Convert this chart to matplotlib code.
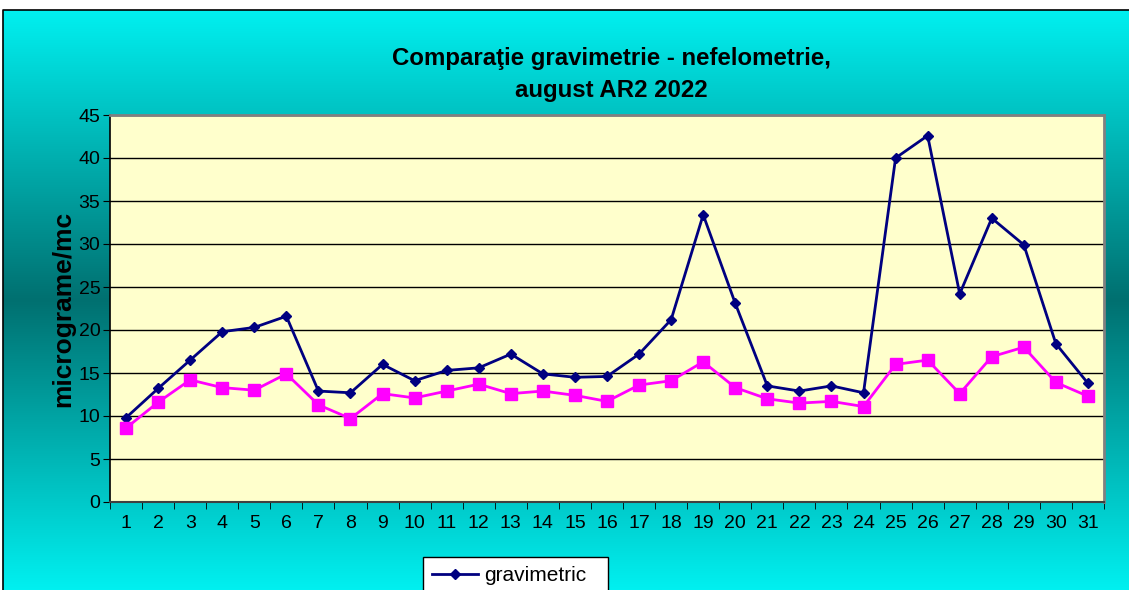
import numpy as np
import matplotlib
matplotlib.use('Agg')
import matplotlib.pyplot as plt
from matplotlib.colors import LinearSegmentedColormap

# date (august 2022, AR2)
zile = [str(i) for i in range(1, 32)]
gravimetric = [9.8, 13.2, 16.5, 19.8, 20.3, 21.6, 12.9, 12.7, 16.0, 14.1,
               15.3, 15.6, 17.2, 14.9, 14.5, 14.6, 17.2, 21.2, 33.4, 23.1,
               13.5, 12.9, 13.5, 12.7, 40.0, 42.6, 24.2, 33.0, 29.9, 18.4, 13.8]
nefelometric = [8.6, 11.6, 14.2, 13.3, 13.0, 14.9, 11.3, 9.7, 12.6, 12.1,
                12.9, 13.7, 12.6, 12.9, 12.4, 11.7, 13.6, 14.1, 16.3, 13.3,
                12.0, 11.5, 11.7, 11.1, 16.0, 16.5, 12.6, 16.9, 18.0, 13.9, 12.3]
y_ticks = [0, 5, 10, 15, 20, 25, 30, 35, 40, 45]

plt.rcParams['font.family'] = ['Liberation Sans', 'DejaVu Sans']

W, H = 1129, 590
fig = plt.figure(figsize=(W / 100, H / 100), dpi=100)
fig.patch.set_facecolor('white')

# fundal cu gradient (cyan - teal - cyan)
bg = fig.add_axes([0, 0, 1, 1], zorder=-1)
cmap = LinearSegmentedColormap.from_list('bg', ['#00F0F0', '#007070', '#00F0F0'])
grad = np.linspace(0, 1, 256).reshape(-1, 1)
bg.imshow(grad, cmap=cmap, aspect='auto', extent=[3, W, H, 10])
bg.plot([3, 3, W], [H, 10, 10], color='black', lw=1.2)
bg.set_xlim(0, W)
bg.set_ylim(H, 0)
bg.axis('off')

ax = fig.add_axes([110 / W, 1 - 502 / H, (1104 - 110) / W, (502 - 115) / H])
ax.set_facecolor('#FFFFCC')
x = np.arange(len(zile))
ax.plot(x, gravimetric, color='#000080', lw=2, marker='D', markersize=5,
        label='gravimetric', zorder=3)
ax.plot(x, nefelometric, color='#FF00FF', lw=2, marker='s', markersize=8,
        label='nefelometric', zorder=3)

ax.set_xlim(-0.5, len(zile) - 0.5)
ax.set_ylim(0, 45)
ax.set_yticks(y_ticks)
ax.yaxis.grid(True, color='black', lw=1)
ax.set_axisbelow(True)
ax.set_xticks(x)
ax.set_xticklabels(zile)
ax.set_xticks(np.arange(len(zile) + 1) - 0.5, minor=True)
ax.tick_params(axis='x', which='major', length=0, labelsize=14, pad=9)
ax.tick_params(axis='x', which='minor', length=5, direction='out')
ax.tick_params(axis='y', length=5, direction='out', labelsize=14, pad=2)
for s in ['top', 'right']:
    ax.spines[s].set_color('#808080')
    ax.spines[s].set_linewidth(2)
ax.spines['bottom'].set_color('#404040')
ax.spines['bottom'].set_linewidth(1.5)
ax.spines['left'].set_color('black')
ax.spines['left'].set_linewidth(1.2)

ax.set_ylabel('micrograme/mc', fontsize=19, fontweight='bold', labelpad=2)

fig.text(611 / W, 1 - 59 / H, 'Comparaţie gravimetrie - nefelometrie,',
         ha='center', va='center', fontsize=17.3, fontweight='bold')
fig.text(611 / W, 1 - 90 / H, 'august AR2 2022',
         ha='center', va='center', fontsize=17.3, fontweight='bold')

# legenda iese in afara imaginii, ca in original
leg = fig.legend(loc='upper left', bbox_to_anchor=(423 / W, 1 - 557 / H),
                 fontsize=15, fancybox=False, framealpha=1, edgecolor='black',
                 handlelength=2.2, handletextpad=0.3, borderpad=0.45,
                 labelspacing=1.0, borderaxespad=0)
leg.get_frame().set_linewidth(1)

plt.savefig('out.png', dpi=100)
